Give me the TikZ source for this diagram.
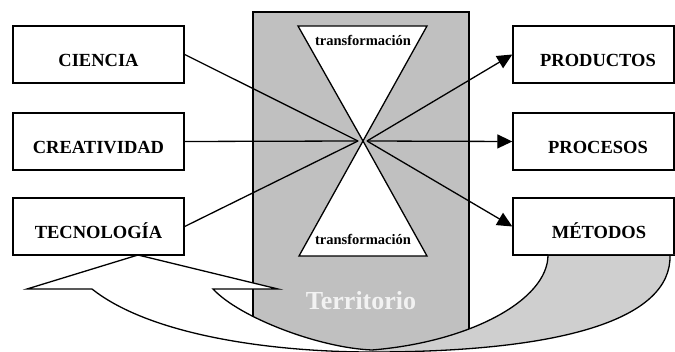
\documentclass[tikz,border=0pt]{standalone}
\usepackage{fontspec}
\setmainfont{Liberation Serif}
\usetikzlibrary{arrows.meta}
\definecolor{terrgray}{HTML}{C0C0C0}
\definecolor{backgray}{HTML}{CFCFCF}
\definecolor{terrtext}{HTML}{F2F2F2}
\begin{document}
\begin{tikzpicture}[x=1pt,y=-1pt,
  box/.style={draw, line width=1.4pt, fill=white, minimum height=57pt, inner sep=0pt},
  lbox/.style={box, minimum width=171pt},
  rbox/.style={box, minimum width=161pt},
  lbl/.style={font=\fontsize{18.5}{20}\selectfont\bfseries, anchor=base, inner sep=0pt},
  tlbl/.style={font=\fontsize{14.5}{16}\selectfont\bfseries, anchor=base, inner sep=0pt},
  conn/.style={line width=1.3pt},
  arr/.style={conn, -{Triangle[length=15pt,width=14pt]}},
  outl/.style={line width=1.3pt, line join=miter}
]
\clip (0,0) rectangle (675,352);
% territory rectangle
\fill[terrgray] (253,12) rectangle (469,352);
\draw[line width=1.4pt] (253,348) -- (253,12) -- (469,12) -- (469,348);
% hourglass triangles
\coordinate (apex) at (363,141);
\filldraw[outl, fill=white] (298,26) -- (427,26) -- (apex) -- cycle;
\filldraw[outl, fill=white] (299,256) -- (427,256) -- (apex) -- cycle;
\node[tlbl] (t1) at (363,45.5) {transformación};
\node[tlbl] (t2) at (363,245) {transformación};
\node[anchor=base, inner sep=0pt, text=terrtext, font=\fontsize{26}{28}\selectfont\bfseries] (terr) at (361,310) {Territorio};
% boxes
\node[lbox] (cien) at (98.5,54.5) {};
\node[lbox] (crea) at (98.5,141.5) {};
\node[lbox] (tecn) at (98.5,226.5) {};
\node[rbox] (prod) at (593.5,54.5) {};
\node[rbox] (proc) at (593.5,141.5) {};
\node[rbox] (meto) at (593.5,226.5) {};
\node[lbl] (cient) at (98.5,67) {CIENCIA};
\node[lbl] (creat) at (98.5,154) {CREATIVIDAD};
\node[lbl] (tecnt) at (98.5,239) {TECNOLOGÍA};
\node[lbl] (prodt) at (598,67) {PRODUCTOS};
\node[lbl] (proct) at (598,154) {PROCESOS};
\node[lbl] (metot) at (599,239) {MÉTODOS};
% connectors
\coordinate (cl) at (358,141);
\coordinate (cr) at (367,141);
\draw[conn] (cien.east) -- (cl);
\draw[conn] (crea.east) -- (cl);
\draw[conn] (tecn.east) -- (cl);
\draw[arr] (cr) -- (prod.west);
\draw[arr] (cr) -- (proc.west);
\draw[arr] (cr) -- (meto.west);
% curved return arrow
\coordinate (tip) at (138,255);
\fill[backgray] (372,352) .. controls (560,352) and (672,320) .. (670,255) -- (548,255) .. controls (548,300) and (470,342) .. (372,350) -- cycle;
\fill[white] (213,289) -- (278,289) -- (tip) -- (27,289) -- (92,289) .. controls (150,335) and (270,352) .. (372,352) -- (372,350) .. controls (320,348) and (240,318) .. (213,289) -- cycle;
% white ground below the arrow band
\fill[white] (92,289) .. controls (150,335) and (270,352) .. (372,352) .. controls (560,352) and (672,320) .. (670,255) -- (680,255) -- (680,360) -- (-5,360) -- (-5,289) -- cycle;
\draw[outl] (372,352) .. controls (560,352) and (672,320) .. (670,255);
\draw[outl] (548,255) .. controls (548,300) and (470,342) .. (372,350);
\draw[outl] (372,350) .. controls (320,348) and (240,318) .. (213,289) -- (278,289) -- (tip) -- (27,289) -- (92,289) .. controls (150,335) and (270,352) .. (372,352);
% box borders on top
\draw[line width=1.4pt] (meto.south west) -- (meto.south east);
\draw[line width=1.4pt] (tecn.south west) -- (tecn.south east);
\end{tikzpicture}
\end{document}
